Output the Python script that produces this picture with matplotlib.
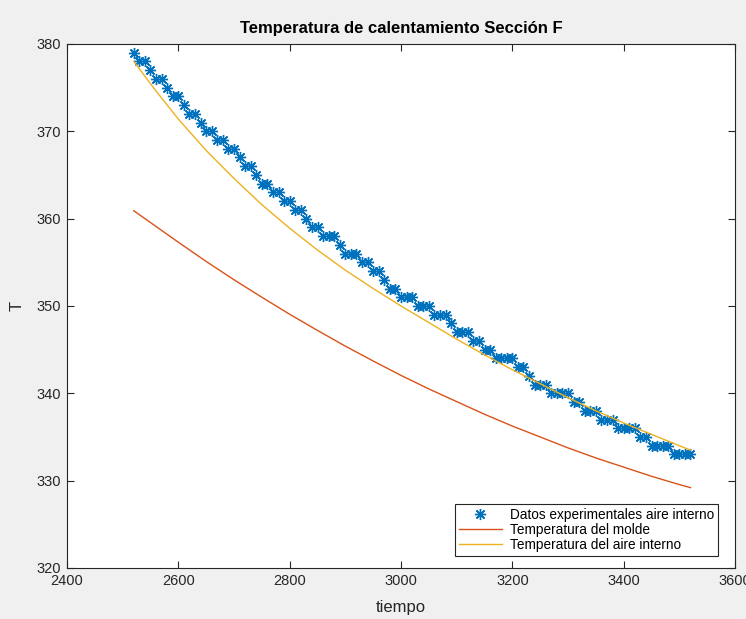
import matplotlib
matplotlib.use("Agg")
import matplotlib.pyplot as plt
import numpy as np

# experimental inner-air data (one sample every 10 s)
t_start = 2520
t_step = 10
levels = [379, 378, 377, 376, 375, 374, 373, 372, 371, 370, 369, 368, 367, 366, 365,
          364, 363, 362, 361, 360, 359, 358, 357, 356, 355, 354, 353, 352, 351, 350,
          349, 348, 347, 346, 345, 344, 343, 342, 341, 340, 339, 338, 337, 336, 335,
          334, 333]
counts = [1, 2, 1, 2, 1, 2, 1, 2, 1, 2, 2, 2, 1, 2, 1,
          2, 2, 2, 2, 1, 2, 3, 1, 3, 2, 2, 1, 2, 3, 3,
          3, 1, 3, 2, 2, 4, 2, 1, 3, 4, 2, 3, 3, 4, 2,
          4, 4]

# model curves
t_model = [2520, 2560, 2600, 2650, 2700, 2750, 2800, 2850, 2900, 2950, 3000, 3050,
           3100, 3150, 3200, 3250, 3300, 3350, 3400, 3450, 3500, 3520]
T_aire = [378.0, 374.6, 371.4, 367.8, 364.6, 361.6, 358.9, 356.4, 354.1, 352.0, 350.0, 348.1,
          346.2, 344.4, 342.7, 341.1, 339.5, 338.0, 336.6, 335.3, 334.0, 333.5]
T_molde = [360.9, 359.1, 357.3, 355.1, 353.0, 351.0, 349.05, 347.2, 345.4, 343.7, 342.05, 340.5,
           339.05, 337.6, 336.25, 335.0, 333.75, 332.6, 331.55, 330.5, 329.55, 329.2]

T_exp = []
for lv, c in zip(levels, counts):
    T_exp += [lv] * c
t_exp = [t_start + t_step * i for i in range(len(T_exp))]

plt.rcParams['font.family'] = ['Liberation Sans', 'DejaVu Sans']

fig = plt.figure(figsize=(7.46, 6.19), dpi=100, facecolor='#f0f0f0')
ax = fig.add_axes([0.0898, 0.0824, 0.8955, 0.8466])
ax.set_facecolor('white')

ax.plot(t_exp, T_exp, linestyle='none', marker=(8, 2, 0), markersize=8,
        markeredgewidth=1.0, color='#0072BD', label='Datos experimentales aire interno')
ax.plot(t_model, T_molde, color='#D95319', lw=1.0, label='Temperatura del molde')
ax.plot(t_model, T_aire, color='#EDB120', lw=1.0, label='Temperatura del aire interno')

ax.set_xlim(2400, 3600)
ax.set_ylim(320, 380)
ax.set_xticks(np.arange(2400, 3601, 200))
ax.set_yticks(np.arange(320, 381, 10))
ax.tick_params(direction='in', length=5, width=0.8, top=True, right=True,
               labelsize=10.5, colors='#262626', pad=4)
for s in ax.spines.values():
    s.set_color('#262626')
    s.set_linewidth(0.8)

ax.set_title('Temperatura de calentamiento Sección F', fontsize=12, fontweight='bold', pad=8)
ax.set_xlabel('tiempo', fontsize=12, color='#262626', labelpad=9)
ax.set_ylabel('T', fontsize=12, color='#262626', labelpad=9)

leg = ax.legend(loc='lower right', bbox_to_anchor=(0.9746, 0.0229), borderaxespad=0,
                fontsize=9.8, fancybox=False, framealpha=1, edgecolor='#262626',
                borderpad=0.3, labelspacing=0.08, handlelength=3.1, handletextpad=0.6)
leg.get_frame().set_linewidth(0.8)

fig.savefig('out.png', dpi=100, facecolor=fig.get_facecolor())
